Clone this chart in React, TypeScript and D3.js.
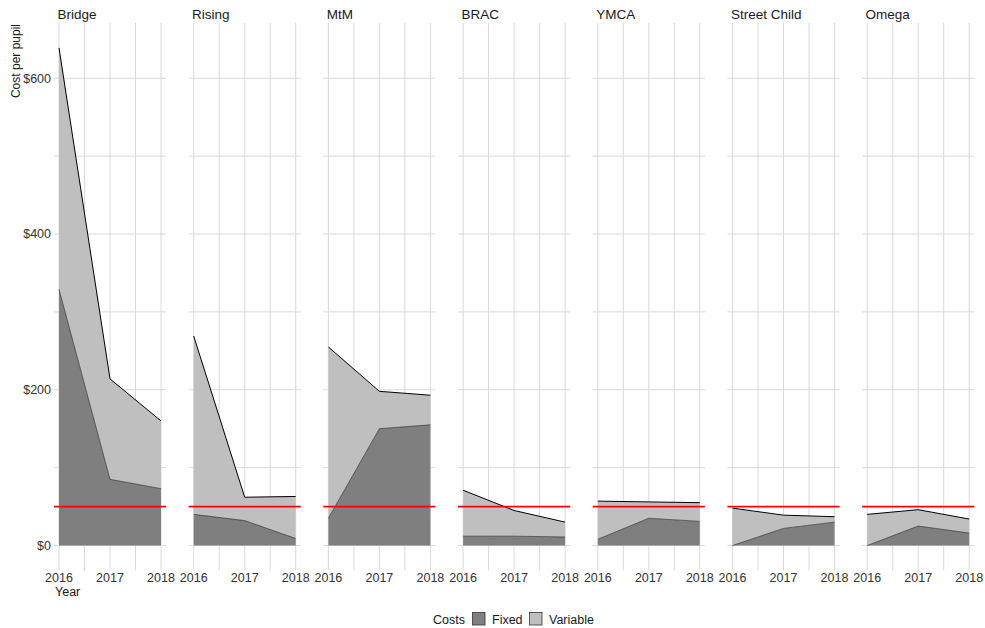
import React from "react";
import * as d3 from "d3";

const providers = ["Bridge", "Rising", "MtM", "BRAC", "YMCA", "Street Child", "Omega"];
const years = [2016, 2017, 2018];
// Fixed cost per pupil by provider (2016, 2017, 2018)
const fixedCosts = [
  [329, 85, 73],
  [40, 32, 9],
  [35, 150, 155],
  [12, 12, 11],
  [8, 35, 31],
  [0, 22, 30],
  [0, 25, 16],
];
// Variable cost per pupil by provider (2016, 2017, 2018)
const variableCosts = [
  [310, 129, 87],
  [229, 30, 54],
  [220, 48, 38],
  [59, 33, 19],
  [49, 21, 24],
  [48, 17, 7],
  [40, 21, 18],
];
const benchmark = 50;
const yTicksMajor = [0, 200, 400, 600];
const yTicksMinor = [100, 300, 500];
const xTicksMinor = [2016.5, 2017.5];
const legendItems = ["Fixed", "Variable"];

const W = 985;
const H = 628;
const panelLeft0 = 53.9;
const panelStep = 134.7;
const panelWidth = 112.2;
const panelTop = 23;
const panelBottom = 570.4;
const FONT = "Liberation Sans, Arial, Helvetica, sans-serif";
const FIXED_FILL = "#7f7f7f";
const VAR_FILL = "#bfbfbf";
const GRID = "#d9d9d9";

export default function App() {
  const totals = variableCosts.map((row, i) => row.map((v, j) => v + fixedCosts[i][j]));
  const maxV = d3.max(totals.flat()) as number;
  const minV = 0;
  const span = maxV - minV;
  const y = d3
    .scaleLinear()
    .domain([minV - 0.05 * span, maxV + 0.05 * span])
    .range([panelBottom, panelTop]);

  const xSpan = years[years.length - 1] - years[0];

  return (
    <svg width={W} height={H} style={{ position: "absolute", left: 0, top: 0, background: "#fff" }} fontFamily={FONT}>
      {/* y axis title */}
      <text
        transform={`translate(19.5,24) rotate(-90)`}
        textAnchor="end"
        fontSize={12}
        fill="#1a1a1a"
      >
        Cost per pupil
      </text>
      {/* y tick labels */}
      {yTicksMajor.map((t) => (
        <text key={t} x={51} y={y(t)} dy="0.35em" textAnchor="end" fontSize={12.5} fill="#333">
          {"$" + t}
        </text>
      ))}
      {providers.map((p, i) => {
        const left = panelLeft0 + i * panelStep;
        const x = d3
          .scaleLinear()
          .domain([years[0] - 0.05 * xSpan, years[years.length - 1] + 0.05 * xSpan])
          .range([left, left + panelWidth]);
        const data = years.map((yr, j) => ({ yr, fixed: fixedCosts[i][j], total: totals[i][j] }));
        const fixedArea = d3
          .area<any>()
          .x((d) => x(d.yr))
          .y0(y(0))
          .y1((d) => y(d.fixed));
        const varArea = d3
          .area<any>()
          .x((d) => x(d.yr))
          .y0((d) => y(d.fixed))
          .y1((d) => y(d.total));
        const fixedLine = d3
          .line<any>()
          .x((d) => x(d.yr))
          .y((d) => y(d.fixed));
        const totalLine = d3
          .line<any>()
          .x((d) => x(d.yr))
          .y((d) => y(d.total));
        return (
          <g key={p}>
            {/* grid */}
            {[...yTicksMinor, ...yTicksMajor].map((t) => (
              <line key={"h" + t} x1={left} x2={left + panelWidth} y1={y(t)} y2={y(t)} stroke={GRID} strokeWidth={1} />
            ))}
            {[...xTicksMinor, ...years].map((t) => (
              <line key={"v" + t} x1={x(t)} x2={x(t)} y1={panelTop} y2={panelBottom} stroke={GRID} strokeWidth={1} />
            ))}
            <path d={varArea(data) as string} fill={VAR_FILL} />
            <path d={fixedArea(data) as string} fill={FIXED_FILL} />
            <path d={fixedLine(data) as string} fill="none" stroke="#222" strokeWidth={0.6} />
            <path d={totalLine(data) as string} fill="none" stroke="#000" strokeWidth={1} />
            <line
              x1={left}
              x2={left + panelWidth}
              y1={y(benchmark)}
              y2={y(benchmark)}
              stroke="#ff0000"
              strokeWidth={1.6}
            />
            {/* strip title */}
            <text x={left + 3.5} y={19} fontSize={13.5} fill="#1a1a1a">
              {p}
            </text>
            {/* x tick labels */}
            {years.map((yr) => (
              <text key={yr} x={x(yr)} y={582} textAnchor="middle" fontSize={12.5} fill="#333">
                {yr}
              </text>
            ))}
          </g>
        );
      })}
      {/* x axis title */}
      <text x={55} y={596} fontSize={12.5} fill="#1a1a1a">
        Year
      </text>
      {/* legend */}
      <text x={433} y={624} fontSize={12.5} fill="#1a1a1a">
        Costs
      </text>
      {legendItems.map((item, k) => {
        const bx = k === 0 ? 472.5 : 529.5;
        return (
          <g key={item}>
            <rect
              x={bx}
              y={612.5}
              width={12.5}
              height={12.5}
              fill={k === 0 ? FIXED_FILL : VAR_FILL}
              stroke="#333"
              strokeWidth={0.8}
            />
            <text x={bx + 19.5} y={624} fontSize={12.5} fill="#1a1a1a">
              {item}
            </text>
          </g>
        );
      })}
    </svg>
  );
}
